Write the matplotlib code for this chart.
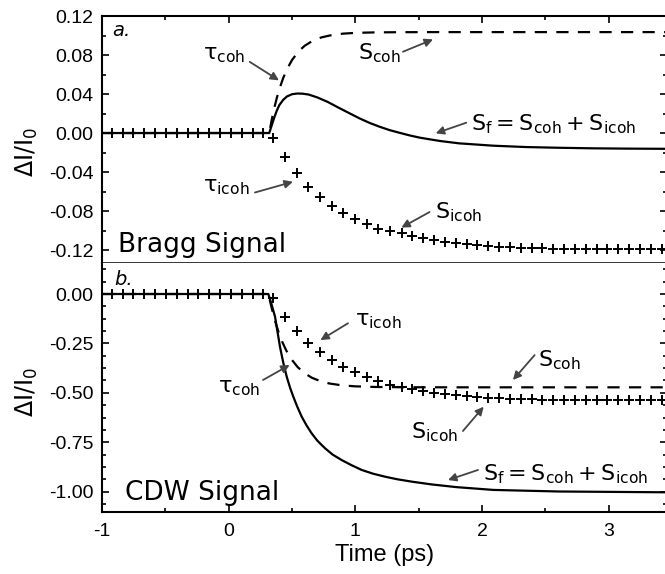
import matplotlib
matplotlib.use("Agg")
import matplotlib.pyplot as plt
from matplotlib.ticker import FixedLocator, MultipleLocator, FormatStrFormatter

plt.rcParams['font.family'] = ['DejaVu Sans']
plt.rcParams['axes.unicode_minus'] = False
plt.rcParams['mathtext.fontset'] = 'custom'
plt.rcParams['mathtext.rm'] = 'Liberation Sans'
plt.rcParams['mathtext.it'] = 'Liberation Sans:italic'

# ---------------- data ----------------
# marker (S_icoh) sample times, ps
marker_t = [-0.923, -0.838, -0.752, -0.667, -0.581, -0.496, -0.410, -0.325, -0.239, -0.154,
            -0.068, 0.018, 0.103, 0.189, 0.274, 0.353, 0.445, 0.537, 0.629, 0.721,
            0.813, 0.905, 0.997, 1.089, 1.180, 1.273, 1.365, 1.450, 1.536, 1.622,
            1.707, 1.793, 1.878, 1.964, 2.049, 2.135, 2.220, 2.306, 2.391, 2.477,
            2.562, 2.648, 2.733, 2.819, 2.904, 2.990, 3.075, 3.161, 3.246, 3.332,
            3.417]

# Bragg signal (top)
bragg_icoh = [0, 0, 0, 0, 0, 0, 0, 0, 0, 0,
              0, 0, 0, 0, 0, -0.0055, -0.025, -0.041, -0.055, -0.066,
              -0.075, -0.082, -0.0885, -0.093, -0.098, -0.100, -0.103, -0.106, -0.108, -0.110,
              -0.1115, -0.113, -0.114, -0.115, -0.116, -0.1165, -0.117, -0.1175, -0.118, -0.118,
              -0.1185, -0.1185, -0.1185, -0.1185, -0.119, -0.119, -0.119, -0.119, -0.119, -0.119,
              -0.119]

bragg_coh_t = [-1.0, 0.32, 0.34, 0.36, 0.38, 0.40, 0.43, 0.46, 0.50, 0.55, 0.60, 0.66,
               0.73, 0.80, 0.90, 1.00, 1.15, 1.35, 1.60, 2.00, 3.46]
bragg_coh = [0, 0, 0.0138, 0.0257, 0.0361, 0.0451, 0.0563, 0.0654, 0.0749, 0.0835, 0.0895, 0.0944,
             0.0980, 0.1001, 0.1019, 0.1027, 0.1032, 0.1034, 0.1035, 0.1035, 0.1035]

bragg_f_t = [-1.0, 0.32, 0.34, 0.36, 0.38, 0.40, 0.43, 0.46, 0.50, 0.54, 0.58, 0.63, 0.70,
             0.78, 0.86, 0.95, 1.03, 1.11, 1.19, 1.27, 1.35, 1.43, 1.51, 1.67, 1.82, 2.09,
             2.35, 2.60, 2.88, 3.15, 3.46]
bragg_f = [0, 0, 0.008, 0.016, 0.023, 0.0287, 0.034, 0.0375, 0.0398, 0.0405, 0.0404, 0.0395, 0.0365,
           0.032, 0.0265, 0.0205, 0.0152, 0.0105, 0.0065, 0.003, 0.0002, -0.0025, -0.0048, -0.0082,
           -0.0106, -0.013, -0.0144, -0.0151, -0.0157, -0.016, -0.0162]

# CDW signal (bottom)
cdw_icoh = [0, 0, 0, 0, 0, 0, 0, 0, 0, 0,
            0, 0, 0, 0, 0, -0.022, -0.115, -0.186, -0.246, -0.295,
            -0.334, -0.371, -0.393, -0.421, -0.438, -0.460, -0.472, -0.482, -0.490, -0.499,
            -0.506, -0.511, -0.516, -0.521, -0.525, -0.528, -0.530, -0.532, -0.533, -0.534,
            -0.534, -0.534, -0.535, -0.535, -0.535, -0.535, -0.535, -0.535, -0.535, -0.535,
            -0.535]

cdw_coh_t = [-1.0, 0.313, 0.335, 0.355, 0.375, 0.395, 0.425, 0.455, 0.495, 0.545, 0.595, 0.655,
             0.725, 0.795, 0.895, 0.995, 1.15, 1.40, 1.80, 3.46]
cdw_coh = [0, 0, -0.0589, -0.1105, -0.1556, -0.1951, -0.2453, -0.2864, -0.3298, -0.3701, -0.3990,
           -0.4231, -0.4413, -0.4527, -0.4621, -0.4669, -0.4701, -0.4717, -0.472, -0.472]

cdw_f_t = [-1.0, 0.313, 0.335, 0.366, 0.385, 0.405, 0.43, 0.458, 0.485, 0.51, 0.54, 0.576, 0.615,
           0.655, 0.70, 0.76, 0.82, 0.892, 0.97, 1.05, 1.14, 1.234, 1.33, 1.444, 1.6, 1.8, 2.09,
           2.61, 3.46]
cdw_f = [0, 0, -0.045, -0.115, -0.19, -0.267, -0.345, -0.418, -0.475, -0.519, -0.568, -0.62, -0.665,
         -0.705, -0.742, -0.78, -0.812, -0.84, -0.866, -0.89, -0.909, -0.924, -0.937, -0.949, -0.963,
         -0.977, -0.991, -0.999, -1.003]

x_major = [-1, 0, 1, 2, 3]
x_labels = ['-1', '0', '1', '2', '3']
bragg_yticks = [-0.12, -0.08, -0.04, 0.0, 0.04, 0.08, 0.12]
cdw_yticks = [-1.0, -0.75, -0.5, -0.25, 0.0]

# ---------------- figure ----------------
fig = plt.figure(figsize=(6.65, 5.74), dpi=100)
ax1 = fig.add_axes([0.1534, 0.5418, 0.8496, 0.4303])
ax2 = fig.add_axes([0.1534, 0.108, 0.8496, 0.4338])

line_kw = dict(color='black', lw=1.6)
mk_kw = dict(ls='none', marker='+', ms=7, mew=1.4, color='black')

for ax, ct, cv, ft, fv, iv in [(ax1, bragg_coh_t, bragg_coh, bragg_f_t, bragg_f, bragg_icoh),
                               (ax2, cdw_coh_t, cdw_coh, cdw_f_t, cdw_f, cdw_icoh)]:
    ax.plot(ct, cv, ls=(0, (5.5, 4.2)), **line_kw)
    ax.plot(ft, fv, ls='-', **line_kw)
    ax.plot(marker_t, iv, **mk_kw)
    ax.set_xlim(-1, 3.46)
    ax.xaxis.set_major_locator(FixedLocator(x_major))
    ax.xaxis.set_minor_locator(MultipleLocator(0.5))
    ax.tick_params(which='both', direction='in', width=1.2, labelsize=14,
                   labelfontfamily='Liberation Sans', left=True, right=True)
    ax.tick_params(which='major', length=5)
    ax.tick_params(which='minor', length=3)
    ax.tick_params(axis='y', pad=6)
    for s in ax.spines.values():
        s.set_linewidth(1.5)

ax1.set_ylim(-0.1333, 0.12)
ax1.yaxis.set_major_locator(FixedLocator(bragg_yticks))
ax1.yaxis.set_minor_locator(MultipleLocator(0.02))
ax1.yaxis.set_major_formatter(FormatStrFormatter('%.2f'))
ax1.tick_params(axis='x', which='both', bottom=False, top=True, labelbottom=False)
ax1.spines['bottom'].set_linewidth(1.1)

ax2.set_ylim(-1.1027, 0.1568)
ax2.yaxis.set_major_locator(FixedLocator(cdw_yticks))
ax2.yaxis.set_minor_locator(MultipleLocator(0.0625))
ax2.yaxis.set_major_formatter(FormatStrFormatter('%.2f'))
ax2.set_xticks(x_major, x_labels)
ax2.tick_params(axis='x', which='both', bottom=True, top=False, pad=8)
ax2.spines['top'].set_visible(False)

ylab = r'$\mathregular{\Delta I/I_0}$'
ax1.set_ylabel(ylab, fontsize=17)
ax2.set_ylabel(ylab, fontsize=17)
ax1.yaxis.set_label_coords(-0.110, 0.45)
ax2.yaxis.set_label_coords(-0.110, 0.48)
ax2.set_xlabel('Time (ps)', fontsize=17, family='Liberation Sans', labelpad=3)

# ---------------- annotations ----------------
arrow_kw = dict(arrowstyle='-|>', color='#444444', lw=1.3, mutation_scale=12,
                shrinkA=0, shrinkB=0)
tfont = dict(fontsize=16, math_fontfamily='dejavusans', va='baseline')


def label(ax, txt, xy, tip, tail):
    ax.text(xy[0], xy[1], txt, **tfont)
    ax.annotate('', xy=tip, xytext=tail, arrowprops=arrow_kw)


tau_coh = r'$\mathrm{\tau_{coh}}$'
tau_icoh = r'$\mathrm{\tau_{icoh}}$'
s_coh = r'$\mathrm{S_{coh}}$'
s_icoh = r'$\mathrm{S_{icoh}}$'
s_f = r'$\mathrm{S_f = S_{coh} + S_{icoh}}$'

# top panel
ax1.text(-0.916, 0.099, 'a.', fontsize=14, style='italic', va='baseline')
ax1.text(-0.874, -0.1217, 'Bragg Signal', fontsize=19, va='baseline')
label(ax1, tau_coh, (-0.205, 0.075), (0.397, 0.054), (0.166, 0.073))
label(ax1, tau_icoh, (-0.205, -0.060), (0.507, -0.050), (0.207, -0.061))
label(ax1, s_coh, (1.02, 0.075), (1.613, 0.096), (1.376, 0.0834))
label(ax1, s_f, (1.915, 0.003), (1.634, -0.0003), (1.876, 0.0106))
label(ax1, s_icoh, (1.626, -0.0875), (1.363, -0.097), (1.586, -0.081))

# bottom panel
ax2.text(-0.90, 0.0455, 'b.', fontsize=14, style='italic', va='baseline')
ax2.text(-0.82, -1.042, 'CDW Signal', fontsize=19, va='baseline')
label(ax2, tau_icoh, (0.994, -0.157), (0.724, -0.233), (0.942, -0.148))
label(ax2, tau_coh, (-0.084, -0.499), (0.481, -0.359), (0.271, -0.435))
label(ax2, s_coh, (2.441, -0.368), (2.244, -0.435), (2.415, -0.309))
label(ax2, s_icoh, (1.442, -0.73), (2.013, -0.57), (1.849, -0.693))
label(ax2, s_f, (2.007, -0.941), (1.731, -0.941), (1.968, -0.89))

fig.savefig('out.png', dpi=100)
